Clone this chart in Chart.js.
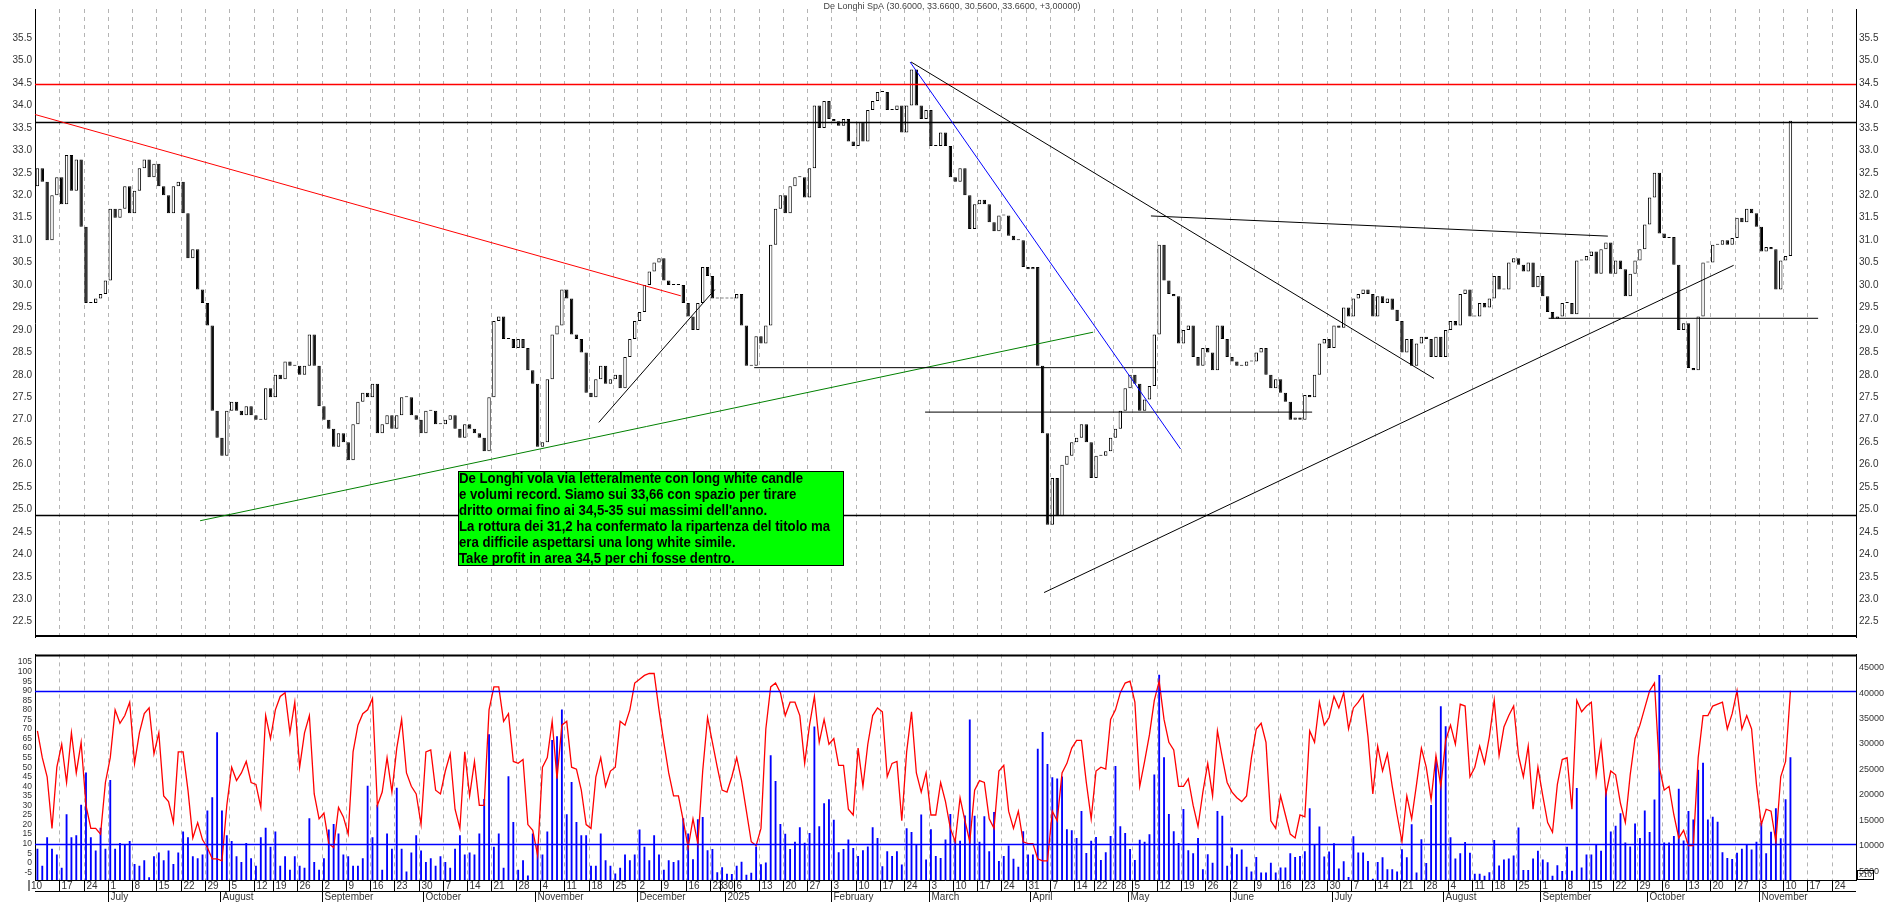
<!DOCTYPE html>
<html>
<head>
<meta charset="utf-8">
<script src="https://cdn.jsdelivr.net/npm/chart.js@4.4.1/dist/chart.umd.min.js"></script>
<style>
  html, body { margin: 0; padding: 0; background: #fff; overflow: hidden; }
  #wrap { position: relative; width: 1890px; height: 902px; }
  canvas { position: absolute; left: 0; display: block; }
  #priceChart { top: 0; }
  #oscChart { top: 646px; }
</style>
</head>
<body>
<div id="wrap">
  <canvas id="priceChart" width="1890" height="646"></canvas>
  <canvas id="oscChart" width="1890" height="256"></canvas>
</div>
<script>
// De Longhi SpA - daily candles, Jun 2024 -> Nov 2025

const START_DATE = '2024-06-10';
const END_DATE = '2025-11-28';
const HOLIDAYS = ['2024-08-15', '2024-12-24', '2024-12-25', '2024-12-26', '2024-12-31',
  '2025-01-01', '2025-04-18', '2025-04-21', '2025-05-01', '2025-08-15'];
const MONTHS = ['January', 'February', 'March', 'April', 'May', 'June', 'July',
  'August', 'September', 'October', 'November', 'December'];

const TITLE = 'De Longhi SpA (30.6000, 33.6600, 30.5600, 33.6600, +3.00000)';
const NOTE = [
  'De Longhi vola via letteralmente con long white candle',
  'e volumi record. Siamo sui 33,66 con spazio per tirare',
  "dritto ormai fino ai 34,5-35 sui massimi dell'anno.",
  'La rottura dei 31,2 ha confermato la ripartenza del titolo ma',
  'era difficile aspettarsi una long white simile.',
  'Take profit in area 34,5 per chi fosse dentro.'
];

// closing prices (Jun-Jul 2024)
const closesA = [32.6, 32.3, 31.0, 32.0, 32.4, 31.8, 32.9, 32.1, 32.8, 31.3, 29.6, 29.6, 29.7, 29.8, 30.1,
  31.7, 31.5, 31.7, 32.2, 31.6, 32.1, 32.6, 32.8, 32.4, 32.7, 32.2, 32.0, 31.6, 32.2, 32.3, 31.6, 30.6, 30.8,
  29.9, 29.6, 29.1, 27.2];
// Aug 2024 - Jan 2025
const closesB = [26.6, 26.2, 27.2, 27.4, 27.2, 27.1, 27.3, 27.1, 27.0, 27.0,
  27.7, 27.5, 28.0, 27.9, 28.3, 28.2, 28.2, 28.0, 28.2, 28.9,
  28.2, 27.3, 27.0, 26.8, 26.4, 26.7, 26.5, 26.1, 26.9, 27.4,
  27.6, 27.5, 27.8, 26.7, 26.9, 27.1, 26.8, 27.1, 27.5, 27.5,
  27.1, 27.0, 26.7, 27.2, 27.2, 26.9, 26.9, 27.0, 27.1, 26.8,
  26.6, 26.9, 26.8, 26.7, 26.6, 26.3, 27.5, 29.2, 29.3, 28.8,
  28.8, 28.6, 28.8, 28.6, 28.1, 27.8, 26.4, 26.5, 27.9, 28.9,
  29.1, 29.9, 29.7, 28.9, 28.8, 28.5, 27.6, 27.5, 27.9, 28.2,
  27.8, 27.9, 28.0, 27.7, 28.4, 28.8, 29.2, 29.4, 30.0, 30.3,
  30.5, 30.6, 30.1, 30.0, 30.0, 30.0, 29.6, 29.3, 29.0, 29.6,
  30.4, 30.2, 29.7, 29.7, 29.7, 29.7, 29.7, 29.8, 29.1, 28.2, 28.2];
// Jan 2025 - Jun 2025
const closesC = [28.86, 28.7, 29.1, 30.9, 31.7, 32.0, 31.6, 32.2, 32.4, 32.4, 31.95,
  32.6, 34.0, 33.5, 34.1, 33.7, 33.65, 33.55, 33.7, 33.2, 33.1,
  33.63, 33.2, 33.9, 34.1, 34.3, 34.3, 33.9, 33.9, 34.0, 33.4,
  34.0, 34.8, 34.0, 33.7, 33.9, 33.1, 33.1, 33.4, 33.1, 32.4,
  32.3, 32.6, 32.0, 31.25, 31.8, 31.9, 31.8, 31.4, 31.2, 31.55,
  31.55, 31.1, 31.0, 31.0, 30.4, 30.35, 30.4, 28.2, 26.7, 24.66,
  25.7, 24.85, 26.0, 26.2, 26.5, 26.6, 26.9, 26.5, 25.7, 26.2,
  26.2, 26.3, 26.6, 26.8, 27.2, 27.7, 28.0, 27.8, 27.2, 27.45,
  27.75, 28.9, 30.9, 30.1, 29.8, 29.75, 28.7, 29.0, 29.1, 28.4,
  28.2, 28.6, 28.5, 28.1, 29.1, 28.8, 28.4, 28.3, 28.2, 28.2,
  28.3, 28.3, 28.5, 28.6, 28.0, 27.7, 27.9, 27.6, 27.4, 27.0,
  27.05, 27.0, 27.55, 27.5, 28.0, 28.7, 28.8, 28.6, 29.1];
// Jul 2025 - Nov 2025
const closesD = [29.05, 29.5, 29.3, 29.7, 29.8, 29.9, 29.8, 29.3, 29.75, 29.6,
  29.7, 29.45, 29.2, 28.5, 28.8, 28.2, 28.7, 28.85, 28.8, 28.4,
  28.85, 28.4, 29.0, 29.2, 29.1, 29.8, 29.9, 29.3, 29.3, 29.6,
  29.5, 29.7, 30.2, 29.9, 29.9, 30.5, 30.6, 30.45, 30.3, 30.5,
  29.95, 30.2, 29.75, 29.4, 29.25, 29.3, 29.6, 29.6, 29.35, 30.55,
  30.55, 30.65, 30.75, 30.25, 30.8, 30.95, 30.25, 30.55, 30.35, 29.75,
  30.25, 30.55, 30.8, 31.35, 31.95, 32.5, 31.15, 31.05, 31.07, 30.45,
  29.0, 29.15, 28.15, 28.1, 29.3, 30.5, 30.5, 30.9, 30.9, 31.0,
  30.9, 31.05, 31.5, 31.4, 31.7, 31.6, 31.3, 30.75, 30.85, 30.8,
  29.9, 30.55, 30.65, 33.66];
const firstOpen = 32.2;

// oscillator (left scale of lower panel)
const oscA = [69, 55, 45, 18, 50, 62, 42, 68, 47, 63, 30, 18, 18, 15, 42, 55, 80, 73, 77, 84,
  52, 68, 78, 81, 57, 68, 35, 32, 21, 58, 58, 38, 13, 21, 12, 8, 2, 2, 1, 30,
  50, 43, 47, 53, 42, 41, 29, 77, 65, 80, 87, 89, 68, 84, 50, 68, 77, 36, 23, 26,
  10, 8, 29, 24, 15, 58, 72, 78, 80, 86, 30, 37, 55, 37, 60, 75, 47, 40, 36, 20,
  58, 59, 38, 36, 48, 57, 28, 18, 58, 35, 53, 30, 30, 80, 92, 92, 74, 78, 53, 52,
  54, 20, 17, 4, 50, 55, 74, 44, 72, 74, 50, 49, 38, 20, 18, 45, 55, 40, 48, 50,
  74, 72, 80, 94, 96, 98, 99, 99, 80, 63, 47, 35, 35, 22, 8];
const oscB = [23, 10, 48, 76, 63, 50, 38, 37, 45, 55, 43, 27, 11, 9, 18, 70, 92, 94, 89, 77,
  84, 84, 77, 52, 72, 87, 63, 75, 62, 65, 51, 51, 28, 25, 60, 40, 62, 77, 81, 79,
  45, 52, 53, 22, 58, 79, 47, 37, 47, 25, 25, 42, 32, 18, 11, 34, 22, 11, 38, 43,
  42, 23, 18, 48, 51, 27];
const oscC = [18, 27, 11, 10, 10, 2, 1, 1, 27, 22, 47, 52, 60, 64, 64, 42, 23, 48, 50, 49, 75,
  80, 89, 94, 95, 84, 40, 53, 67, 85, 95, 75, 63, 59, 40, 40, 44, 30, 19, 37, 52,
  35, 69, 55, 42, 37, 34, 32, 35, 55, 70, 73, 63, 22, 18, 35, 25, 15, 13, 25, 24,
  69, 63, 84];
const oscD = [72, 76, 87, 81, 89, 70, 81, 84, 88, 66, 36, 61, 48, 57, 40, 25, 11, 35, 23, 41,
  60, 50, 33, 56, 40, 64, 72, 62, 83, 82, 45, 50, 61, 52, 66, 85, 56, 71, 77, 82,
  56, 45, 61, 28, 50, 35, 21, 16, 41, 54, 55, 28, 85, 79, 82, 84, 46, 63, 36, 48,
  46, 31, 21, 46, 65, 72, 81, 90, 94, 50, 38, 40, 25, 13, 17, 9, 9, 55, 77, 77,
  82, 83, 84, 70, 78, 90, 70, 77, 70, 41, 20, 28, 27, 11, 45, 53, 90];

// volumes (right scale, x10)
const volA = [9300, 5950, 11580, 9300, 8200, 5580, 16080, 11580, 11950, 17950,
  24330, 11580, 8950, 13450, 9330, 22830, 9330, 10450, 10080, 10830,
  6330, 5950, 7080, 3700, 7830, 8580, 7080, 8950, 6330, 8580,
  12700, 11580, 7830, 7450, 8200, 16830, 19450, 32200, 16830, 11950,
  10830, 7830, 6700, 10450, 7450, 5950, 11580, 13450, 9700, 12700,
  5950, 7830, 5200, 7830, 5950, 5580, 15330, 6700, 5200, 7450,
  13080, 14200, 12330, 8200, 7830, 5950, 5950, 7450, 21700, 11580,
  17950, 5200, 12330, 9330, 21330, 9330, 4830, 8580, 11950, 8950,
  6700, 7450, 5950, 7830, 6700, 5580, 9330, 11950, 8200, 8580,
  8200, 12330, 19080, 31830, 9700, 12330, 5580, 23580, 14580, 5200,
  7080, 4080, 12330, 10080, 8200, 12700, 30700, 31450, 36700, 16080,
  22450, 14580, 11950, 11950, 5950, 5950, 12330, 7080, 5950, 4450,
  5580, 8200, 7080, 8200, 13080, 9700, 7080, 11950, 8200, 5200,
  7080, 6700, 7080, 15330, 12330];
const volB = [7240, 15100, 15540, 9000, 9250, 4720, 5670, 4410, 4350, 5980,
  6740, 4220, 4600, 9750, 6290, 6610, 27680, 22650, 14160, 12270,
  9250, 10700, 13530, 10510, 12400, 33340, 13720, 18250, 19060, 15040,
  8620, 9250, 11140, 9440, 7870, 9000, 9750, 13530, 11450, 5860,
  8810, 7870, 8810, 6230, 13340, 12590, 10130, 16050, 7180, 13150,
  7870, 7490, 11140, 16170, 11010, 10890, 15860, 34730, 15790, 10700,
  15730, 8810, 16550, 6930, 7870, 9940];
const volC = [7370, 5790, 12770, 8180, 8180, 29000, 32270, 25980, 23400, 23150, 23530,
  13150, 12960, 11450, 16740, 8500, 10890, 11640, 7110, 8620, 11830,
  25610, 13720, 12400, 9250, 7110, 11080, 10700, 12150, 23910, 43530,
  27300, 16170, 12770, 10450, 17110, 9000, 8430, 11450, 5290, 8250,
  6550, 16740, 15790, 5980, 9570, 8250, 9190, 5790, 4850, 7680,
  4670, 4670, 6550, 4660, 5610, 5610, 8430, 7680, 7870, 8810,
  17300, 10130];
const volD = [13670, 7800, 8800, 10380, 5450, 6850, 3750, 11770, 8600, 8600,
  6900, 3400, 6720, 7670, 5270, 5270, 4820, 9240, 7670, 14110,
  4630, 11200, 6530, 17900, 27250, 37350, 33380, 11580, 7410, 8430,
  10630, 8550, 4380, 4380, 4000, 4700, 11030, 6020, 7220, 7410,
  7980, 13480, 5140, 5140, 7410, 8930, 7220, 6650, 4000, 6090,
  4950, 9690, 5010, 21250, 5640, 8170, 8170, 10070, 8930, 21120,
  12720, 13860, 16320, 10570, 9750, 14300, 11450, 16830, 12590, 18980,
  43480, 10570, 10570, 11830, 21120, 10950, 16760, 15060, 24850, 26240,
  15060, 15630, 14610, 8610, 7480, 7290, 8550, 9310, 10130, 9180,
  10700, 14420, 8430, 12660, 17270, 11400, 19040, 27310];

// tick labels
const priceTicks = [22.5, 23, 23.5, 24, 24.5, 25, 25.5, 26, 26.5, 27, 27.5, 28, 28.5, 29, 29.5,
  30, 30.5, 31, 31.5, 32, 32.5, 33, 33.5, 34, 34.5, 35, 35.5];
const oscTicks = [-5, 0, 5, 10, 15, 20, 25, 30, 35, 40, 45, 50, 55, 60, 65, 70, 75, 80, 85, 90, 95, 100, 105];
const volTicks = [5000, 10000, 15000, 20000, 25000, 30000, 35000, 40000, 45000];
const oscLevels = [90, 10];

// drawn levels and trend lines: [day index, price]
const hLevels = [
  { price: 34.47, color: '#ff0000' },
  { price: 33.63, color: '#000000' },
  { price: 24.88, color: '#000000' }
];
const trendLines = [
  { from: [-0.5, 33.8], to: [132.5, 29.76], color: '#ff0000' },
  { from: [33.5, 24.75], to: [217.4, 28.95], color: '#008000' },
  { from: [115.6, 26.94], to: [139.5, 29.9], color: '#000000' },
  { from: [147.6, 28.16], to: [230.2, 28.16], color: '#000000' },
  { from: [182.8, 27.17], to: [262.5, 27.17], color: '#000000' },
  { from: [179.7, 34.97], to: [235.4, 26.35], color: '#0000ff' },
  { from: [179.9, 34.97], to: [287.6, 27.92], color: '#000000' },
  { from: [229.3, 31.54], to: [323.4, 31.09], color: '#000000' },
  { from: [207.3, 23.15], to: [349.3, 30.44], color: '#000000' },
  { from: [311.2, 29.26], to: [366.7, 29.26], color: '#000000' }
];

// ---- build categories ----
function buildDates() {
  const out = [];
  const d = new Date(START_DATE + 'T00:00:00Z');
  const end = new Date(END_DATE + 'T00:00:00Z');
  while (d <= end) {
    const iso = d.toISOString().slice(0, 10);
    const wd = d.getUTCDay();
    if (wd !== 0 && wd !== 6 && !HOLIDAYS.includes(iso)) out.push(new Date(d));
    d.setUTCDate(d.getUTCDate() + 1);
  }
  return out;
}
const dates = buildDates();
const labels = dates.map(d => d.toISOString().slice(0, 10));

const closes = [].concat(closesA, closesB, closesC, closesD);
const osc = [].concat(oscA, oscB, oscC, oscD);
const volumes = [].concat(volA, volB, volC, volD);
const opens = closes.map((c, i) => i === 0 ? firstOpen : closes[i - 1]);

const weekKey = d => Math.floor((d.getTime() / 86400000 + 3) / 7);
const weekStarts = [];
const monthStarts = [];
dates.forEach((d, i) => {
  if (i === 0 || weekKey(d) !== weekKey(dates[i - 1])) weekStarts.push(i);
  if (i > 0 && d.getUTCMonth() !== dates[i - 1].getUTCMonth()) monthStarts.push(i);
});

const FONT = 'Liberation Sans, Arial, sans-serif';

function slotLeft(chart, i) {
  const x = chart.scales.x;
  return Math.round((x.getPixelForValue(i) + x.getPixelForValue(i - 1)) / 2) + 0.5;
}

const weekGrid = {
  id: 'weekGrid',
  beforeDatasetsDraw(chart) {
    const { ctx, chartArea } = chart;
    ctx.save();
    ctx.strokeStyle = '#b4b4b4';
    ctx.lineWidth = 1;
    ctx.setLineDash([4, 4]);
    weekStarts.forEach(i => {
      if (i === 0) return;
      const x = slotLeft(chart, i);
      ctx.beginPath();
      ctx.moveTo(x, chartArea.top);
      ctx.lineTo(x, chartArea.bottom);
      ctx.stroke();
    });
    ctx.restore();
  }
};

const priceOverlay = {
  id: 'priceOverlay',
  afterDatasetsDraw(chart) {
    const { ctx, chartArea, scales } = chart;
    const x = scales.x, y = scales.y;
    ctx.save();
    ctx.beginPath();
    ctx.rect(chartArea.left, chartArea.top, chartArea.right - chartArea.left, chartArea.bottom - chartArea.top);
    ctx.clip();
    ctx.lineWidth = 1.5;
    hLevels.forEach(l => {
      const py = Math.round(y.getPixelForValue(l.price)) + 0.5;
      ctx.strokeStyle = l.color;
      ctx.beginPath();
      ctx.moveTo(chartArea.left, py);
      ctx.lineTo(chartArea.right, py);
      ctx.stroke();
    });
    ctx.lineWidth = 1;
    trendLines.forEach(t => {
      ctx.strokeStyle = t.color;
      ctx.beginPath();
      ctx.moveTo(x.getPixelForValue(t.from[0]), y.getPixelForValue(t.from[1]));
      ctx.lineTo(x.getPixelForValue(t.to[0]), y.getPixelForValue(t.to[1]));
      ctx.stroke();
    });
    ctx.restore();
  },
  afterDraw(chart) {
    const { ctx, chartArea } = chart;
    ctx.save();
    // title
    ctx.fillStyle = '#444';
    ctx.font = '9px ' + FONT;
    ctx.textAlign = 'center';
    ctx.textBaseline = 'middle';
    ctx.fillText(TITLE, 952, 7);
    // comment box
    const bx = 458, by = 471, bw = 385, bh = 94;
    ctx.fillStyle = '#00ff00';
    ctx.fillRect(bx, by, bw, bh);
    ctx.strokeStyle = '#000';
    ctx.lineWidth = 1;
    ctx.strokeRect(bx + 0.5, by + 0.5, bw, bh);
    ctx.fillStyle = '#000';
    ctx.textAlign = 'left';
    ctx.font = 'bold 15px "Liberation Sans", Arial, sans-serif';
    NOTE.forEach((line, k) => {
      ctx.save();
      ctx.translate(bx + 1, by + 8 + k * 15.9);
      ctx.scale(0.88, 1);
      ctx.fillText(line, 0, 0);
      ctx.restore();
    });
    // separator line at the bottom
    ctx.strokeStyle = '#000';
    ctx.lineWidth = 2;
    ctx.beginPath();
    ctx.moveTo(chartArea.left, chartArea.bottom - 1);
    ctx.lineTo(chartArea.right, chartArea.bottom - 1);
    ctx.stroke();
    ctx.restore();
  }
};

const oscOverlay = {
  id: 'oscOverlay',
  beforeDatasetsDraw(chart) {
    const { ctx, chartArea } = chart;
    ctx.save();
    ctx.strokeStyle = '#000';
    ctx.lineWidth = 2;
    ctx.beginPath();
    ctx.moveTo(chartArea.left, chartArea.top + 1);
    ctx.lineTo(chartArea.right, chartArea.top + 1);
    ctx.stroke();
    ctx.restore();
  },
  afterDatasetsDraw(chart) {
    const { ctx, chartArea, scales } = chart;
    ctx.save();
    ctx.strokeStyle = '#0000ff';
    ctx.lineWidth = 1.5;
    oscLevels.forEach(v => {
      const py = Math.round(scales.y.getPixelForValue(v)) + 0.5;
      ctx.beginPath();
      ctx.moveTo(chartArea.left, py);
      ctx.lineTo(chartArea.right, py);
      ctx.stroke();
    });
    // date axis
    const top = chartArea.bottom;
    ctx.strokeStyle = '#000';
    ctx.lineWidth = 1;
    ctx.beginPath();
    ctx.moveTo(chartArea.left, top + 0.5);
    ctx.lineTo(chartArea.right, top + 0.5);
    ctx.moveTo(chartArea.left, top + 11.5);
    ctx.lineTo(chartArea.right, top + 11.5);
    ctx.stroke();
    ctx.fillStyle = '#333';
    ctx.font = '10px ' + FONT;
    ctx.textBaseline = 'middle';
    ctx.textAlign = 'left';
    weekStarts.forEach(i => {
      const x = i === 0 ? chartArea.left - 6 : slotLeft(chart, i);
      ctx.beginPath();
      ctx.moveTo(x, top);
      ctx.lineTo(x, top + 11);
      ctx.stroke();
      ctx.fillText(String(dates[i].getUTCDate()), x + 2, top + 6.5);
    });
    monthStarts.forEach(i => {
      const x = slotLeft(chart, i);
      ctx.beginPath();
      ctx.moveTo(x, top + 11);
      ctx.lineTo(x, top + 22);
      ctx.stroke();
      const d = dates[i];
      const txt = d.getUTCMonth() === 0 ? String(d.getUTCFullYear()) : MONTHS[d.getUTCMonth()];
      ctx.fillText(txt, x + 2, top + 17);
    });
    // x10 marker
    ctx.font = '8px ' + FONT;
    ctx.strokeRect(chartArea.right + 1.5, chartArea.bottom - 9.5, 16, 9);
    ctx.fillText('x10', chartArea.right + 3, chartArea.bottom - 5);
    ctx.restore();
  }
};

function fixedTicks(values) {
  return scale => { scale.ticks = values.map(v => ({ value: v })); };
}
function axis(position, min, max, values, width, fmt, size) {
  return {
    position, min, max,
    grid: { display: false, drawTicks: false },
    border: { display: true, color: '#000', width: 1 },
    afterBuildTicks: fixedTicks(values),
    afterFit: s => { s.width = width; },
    ticks: {
      color: '#333', padding: 3, autoSkip: false, font: { family: FONT, size: size || 10 },
      callback: v => fmt(v)
    }
  };
}

new Chart(document.getElementById('priceChart'), {
  type: 'bar',
  data: {
    labels,
    datasets: [{
      data: closes.map((c, i) => [opens[i], c]),
      backgroundColor: closes.map((c, i) => c >= opens[i] ? '#ffffff' : '#000000'),
      borderColor: '#000000',
      borderWidth: 1,
      borderSkipped: false,
      barPercentage: 0.7,
      categoryPercentage: 1,
      minBarLength: 1
    }]
  },
  options: {
    responsive: false,
    animation: false,
    devicePixelRatio: 1,
    layout: { padding: 0 },
    plugins: { legend: { display: false }, tooltip: { enabled: false } },
    scales: {
      x: { type: 'category', display: false, offset: true },
      y: axis('left', 22.16, 36.15, priceTicks, 35, v => v.toFixed(1)),
      y2: axis('right', 22.16, 36.15, priceTicks, 34, v => v.toFixed(1))
    }
  },
  plugins: [weekGrid, priceOverlay]
});

new Chart(document.getElementById('oscChart'), {
  data: {
    labels,
    datasets: [{
      type: 'line',
      data: osc,
      yAxisID: 'y',
      borderColor: '#ff0000',
      borderWidth: 1.3,
      pointRadius: 0,
      tension: 0,
      order: 1
    }, {
      type: 'bar',
      data: volumes,
      yAxisID: 'yv',
      backgroundColor: '#0000ff',
      barThickness: 1.2,
      order: 2
    }]
  },
  options: {
    responsive: false,
    animation: false,
    devicePixelRatio: 1,
    layout: { padding: { bottom: 22 } },
    plugins: { legend: { display: false }, tooltip: { enabled: false } },
    scales: {
      x: { type: 'category', display: false, offset: true },
      y: axis('left', -9.0, 109.0, oscTicks, 35, v => String(v), 8.5),
      yv: axis('right', 3237, 47597, volTicks, 34, v => String(v), 9)
    }
  },
  plugins: [weekGrid, oscOverlay]
});
</script>
</body>
</html>
